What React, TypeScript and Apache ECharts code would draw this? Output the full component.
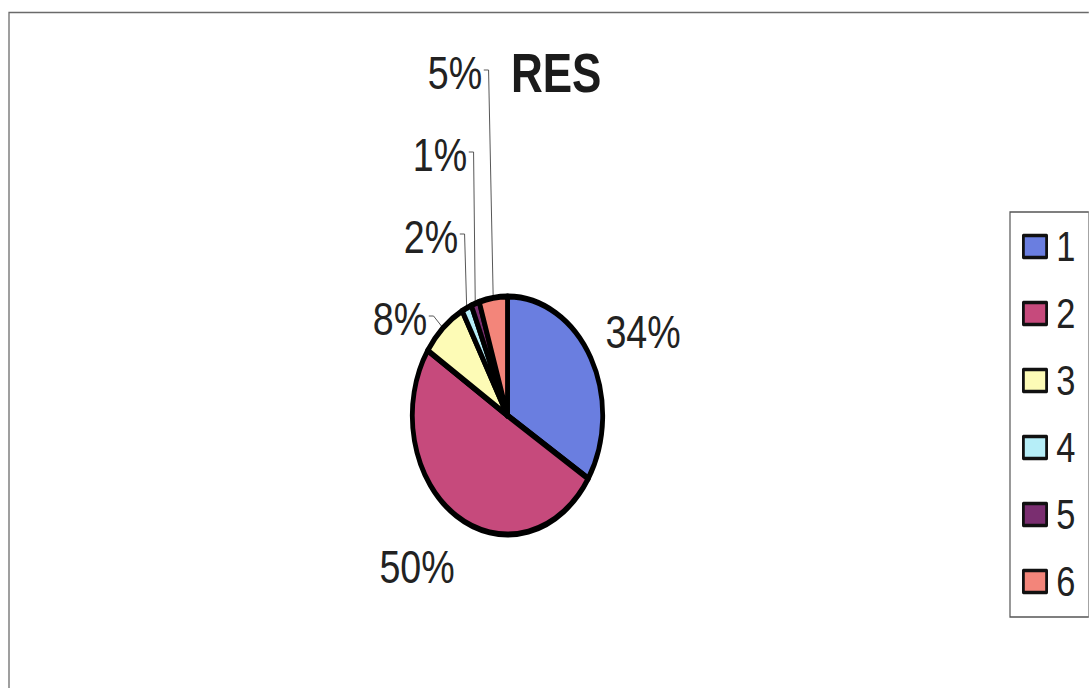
import React, { useEffect, useRef } from 'react';
import * as echarts from 'echarts';

// The reference is horizontally squeezed (the pie is an ellipse), so the chart
// is drawn on a wider canvas and compressed with a CSS scaleX.
const SCALE_X = 0.8;
const PAGE_W = 1089;
const PAGE_H = 688;
const FONT = '"Liberation Sans", Arial, Helvetica, sans-serif';

const chartTitle = 'RES';
const categories = ['1', '2', '3', '4', '5', '6'];
const values = [33.9, 50.3, 7.9, 1.7, 1.4, 4.8];
const colors = ['#6a7ee0', '#c64a7c', '#fdfbb6', '#b6eef8', '#7a2e70', '#f3857a'];

// label anchor centres, in page pixels
const labelAnchors: [number, number][] = [
  [643, 331],
  [417, 566],
  [400, 318],
  [431, 236],
  [440, 154],
  [455, 72],
];

const ux = (x: number) => x / SCALE_X;

export default function App() {
  const ref = useRef<HTMLDivElement>(null);
  useEffect(() => {
    if (!ref.current) return;
    const chart = echarts.init(ref.current, null, { renderer: 'svg' });
    const cw = PAGE_W / SCALE_X;
    chart.setOption({
      animation: false,
      backgroundColor: '#ffffff',
      title: {
        text: chartTitle,
        left: ux(511),
        top: 46,
        padding: 0,
        textStyle: { fontSize: 55, fontWeight: 'bold', color: '#1b1b1b', fontFamily: FONT },
      },
      legend: {
        orient: 'vertical',
        left: ux(1010),
        top: 212,
        padding: [13, 17, 14, 15],
        itemWidth: 29,
        itemHeight: 22,
        itemGap: 24,
        borderColor: '#555',
        borderWidth: 1.5,
        icon: 'rect',
        itemStyle: { borderColor: '#111', borderWidth: 3.5 },
        textStyle: { fontSize: 43, color: '#222', fontFamily: FONT, padding: [0, 0, 0, 7] },
        data: categories,
      },
      graphic: [
        {
          type: 'rect',
          silent: true,
          shape: { x: ux(9), y: 12.5, width: cw - ux(9) + 4, height: PAGE_H },
          style: { fill: 'none', stroke: '#6a6a6a', lineWidth: 1.6 },
        },
      ],
      series: [
        {
          type: 'pie',
          center: [ux(507.5), 415.5],
          radius: 119,
          startAngle: 90,
          clockwise: true,
          avoidLabelOverlap: false,
          emphasis: { disabled: true },
          itemStyle: { borderColor: '#000', borderWidth: 6, borderJoin: 'round' },
          label: {
            show: true,
            position: 'outside',
            fontSize: 47,
            color: '#222',
            fontFamily: FONT,
            formatter: (p: any) => Math.round(p.percent) + '%',
          },
          labelLine: { show: true, length: 10, length2: 10, lineStyle: { color: '#444', width: 1 } },
          labelLayout: (p: any) => {
            const i = p.dataIndex;
            const [px, py] = labelAnchors[i];
            const x = ux(px);
            const y = py;
            const out: any = { x, y, align: 'center', verticalAlign: 'middle' };
            if (i >= 2 && p.labelLinePoints && p.labelLinePoints[0]) {
              const xr = x + p.labelRect.width / 2 + 2;
              out.labelLinePoints = [
                [xr, y - 2],
                [xr + 6, y - 2],
                p.labelLinePoints[0],
              ];
            }
            return out;
          },
          data: categories.map((name, i) => ({
            name,
            value: values[i],
            itemStyle: { color: colors[i] },
            labelLine: { show: i >= 2 },
          })),
        },
      ],
    });
    return () => chart.dispose();
  }, []);

  return (
    <div
      style={{
        position: 'absolute',
        left: 0,
        top: 0,
        width: PAGE_W,
        height: PAGE_H,
        overflow: 'hidden',
        background: '#fff',
      }}
    >
      <div
        ref={ref}
        style={{
          width: PAGE_W / SCALE_X,
          height: PAGE_H,
          transform: `scaleX(${SCALE_X})`,
          transformOrigin: '0 0',
        }}
      />
    </div>
  );
}
